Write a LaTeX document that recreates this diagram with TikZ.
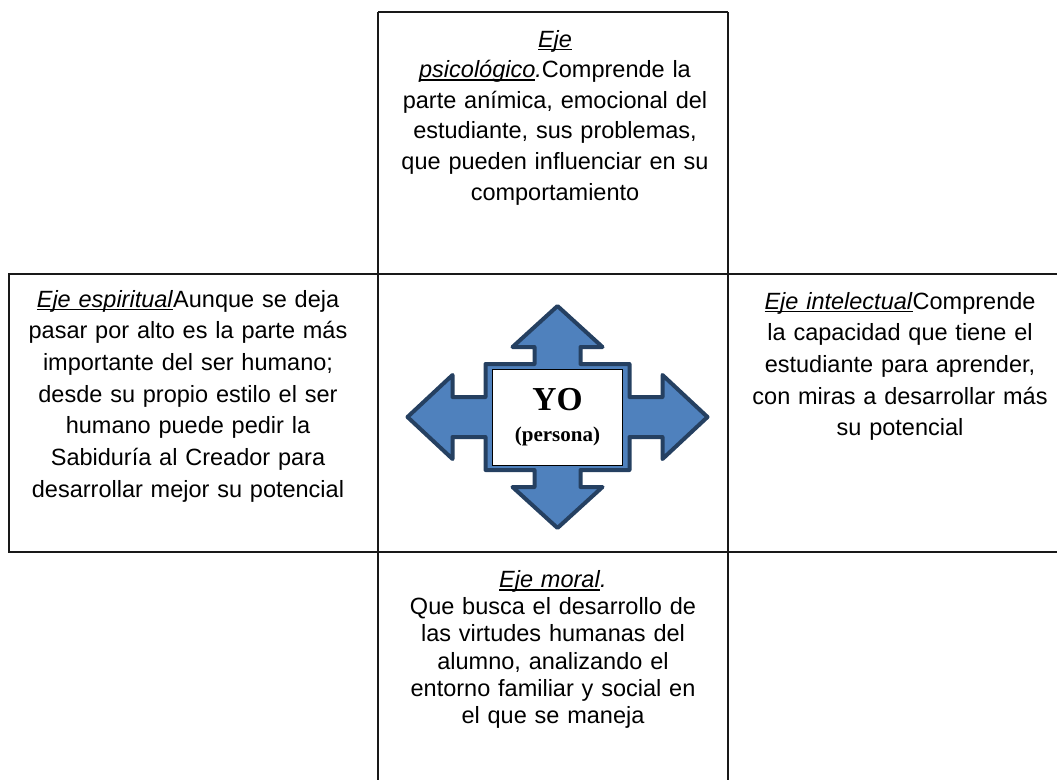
\documentclass[tikz,border=0pt]{standalone}
\usepackage{fontspec}
\setmainfont{Liberation Sans}
\newfontfamily\serifbf{Liberation Serif}
\definecolor{armfill}{RGB}{79,129,189}
\definecolor{armline}{RGB}{37,64,97}
\newcommand\ulin[1]{\leavevmode\setbox0\hbox{#1}\rlap{\rule[-3.2pt]{\wd0}{1.5pt}}\box0}
\begin{document}
\begin{tikzpicture}[x=1pt,y=-1pt,
  grid/.style={draw=black!90, line width=1.4pt},
  cell/.style={text width=380pt, align=center, anchor=base, inner sep=0pt,
    font=\fontsize{23.5}{31.7}\selectfont},
  cellt/.style={cell, font=\fontsize{23.5}{30.6}\selectfont},
  cellb/.style={cell, font=\fontsize{23.5}{27.2}\selectfont},
  arm/.style={fill=armfill, draw=armline, line width=4pt, line join=round},
  yobox/.style={fill=white, draw=black, line width=1pt}]
\useasboundingbox (0,0) rectangle (1057,780);
% table lines
\draw[grid] (378,12) -- (728,12);
\draw[grid] (378,12) -- (378,780);
\draw[grid] (728,12) -- (728,780);
\draw[grid] (1057,274) -- (9,274) -- (9,552) -- (1057,552);
% four-way arrow
\begin{scope}[shift={(557.5,417)}]
\draw[arm] (-150,0) -- (-105,-42) -- (-105,-20) -- (-72,-20) -- (-72,-53)
  -- (-23,-53) -- (-23,-70) -- (-45,-70) -- (0,-111) -- (45,-70)
  -- (23,-70) -- (23,-53) -- (72,-53) -- (72,-20) -- (105,-20) -- (105,-42)
  -- (150,0) -- (105,42) -- (105,20) -- (72,20) -- (72,53) -- (23,53)
  -- (23,70) -- (45,70) -- (0,111) -- (-45,70) -- (-23,70) -- (-23,53)
  -- (-72,53) -- (-72,20) -- (-105,20) -- (-105,42) -- cycle;
\draw[yobox] (-65,-48) rectangle (65,48);
\end{scope}
\node[anchor=base, inner sep=0pt, font=\serifbf\bfseries\fontsize{33.5}{33.5}\selectfont] (yo) at (557.5,410.7) {YO};
\node[anchor=base, inner sep=0pt, font=\serifbf\bfseries\fontsize{21}{21}\selectfont] (persona) at (557.5,441.7) {(persona)};
% texts
\node[cellt] (psico) at (555,47) {\ulin{\textit{Eje}}\\
  \ulin{\textit{psicológico}}\textit{.}Comprende la\\
  parte anímica, emocional del\\
  estudiante, sus problemas,\\
  que pueden influenciar en su\\
  comportamiento};
\node[cell] (espiritual) at (188,307) {\ulin{\textit{Eje espiritual}}Aunque se deja\\
  pasar por alto es la parte más\\
  importante del ser humano;\\
  desde su propio estilo el ser\\
  humano puede pedir la\\
  Sabiduría al Creador para\\
  desarrollar mejor su potencial};
\node[cell] (intelectual) at (900,309) {\ulin{\textit{Eje intelectual}}Comprende\\
  la capacidad que tiene el\\
  estudiante para aprender,\\
  con miras a desarrollar más\\
  su potencial};
\node[cellb] (moral) at (553,587.5) {\ulin{\textit{Eje moral}}\textit{.}\\
  Que busca el desarrollo de\\
  las virtudes humanas del\\
  alumno, analizando el\\
  entorno familiar y social en\\
  el que se maneja};
\end{tikzpicture}
\end{document}
